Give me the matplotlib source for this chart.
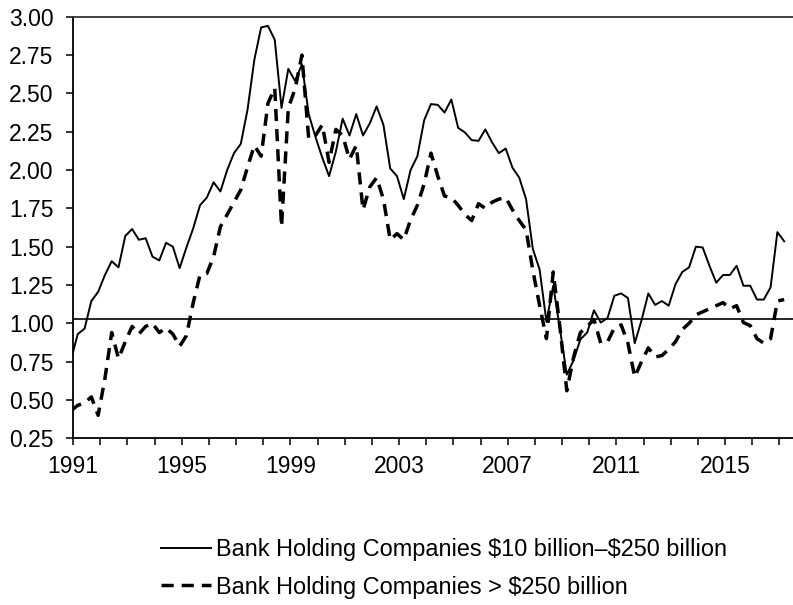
import numpy as np
import matplotlib
matplotlib.use("Agg")
import matplotlib.pyplot as plt
from matplotlib.ticker import FixedLocator, MultipleLocator, FormatStrFormatter

plt.rcParams['font.family'] = ['Liberation Sans', 'DejaVu Sans']

# quarterly observations, first one falls just before the 1991 tick
first_obs = 1990.925
mid_size = [0.76, 0.93, 0.965, 1.145, 1.205, 1.315, 1.405, 1.365, 1.57, 1.615,
            1.545, 1.555, 1.435, 1.41, 1.525, 1.50, 1.36, 1.495, 1.62, 1.77,
            1.82, 1.92, 1.86, 2.00, 2.11, 2.17, 2.395, 2.72, 2.93, 2.94,
            2.85, 2.405, 2.66, 2.58, 2.69, 2.365, 2.215, 2.08, 1.96, 2.12,
            2.335, 2.225, 2.365, 2.225, 2.305, 2.415, 2.295, 2.01, 1.96, 1.81,
            2.00, 2.09, 2.325, 2.43, 2.425, 2.375, 2.46, 2.275, 2.245, 2.195,
            2.19, 2.265, 2.18, 2.11, 2.14, 2.015, 1.95, 1.81, 1.485, 1.35,
            1.01, 1.245, 0.96, 0.665, 0.76, 0.895, 0.94, 1.085, 1.005, 1.035,
            1.18, 1.195, 1.165, 0.87, 1.02, 1.195, 1.12, 1.145, 1.115, 1.255,
            1.335, 1.365, 1.50, 1.495, 1.375, 1.265, 1.315, 1.315, 1.375, 1.245,
            1.245, 1.155, 1.155, 1.235, 1.595, 1.535]
large = [0.43, 0.465, 0.48, 0.52, 0.40, 0.64, 0.94, 0.77, 0.88, 0.98,
         0.93, 0.98, 1.00, 0.94, 0.97, 0.93, 0.85, 0.92, 1.135, 1.315,
         1.325, 1.435, 1.63, 1.71, 1.79, 1.87, 2.02, 2.16, 2.09, 2.435,
         2.535, 1.63, 2.405, 2.53, 2.75, 2.205, 2.225, 2.295, 2.05, 2.265,
         2.225, 2.07, 2.16, 1.74, 1.89, 1.95, 1.81, 1.545, 1.585, 1.545,
         1.675, 1.77, 1.91, 2.11, 1.96, 1.83, 1.82, 1.77, 1.71, 1.67,
         1.78, 1.75, 1.79, 1.81, 1.82, 1.74, 1.67, 1.61, 1.345, 1.115,
         0.90, 1.335, 0.97, 0.56, 0.78, 0.94, 0.98, 1.025, 0.87, 0.88,
         0.97, 0.99, 0.87, 0.65, 0.75, 0.84, 0.78, 0.79, 0.83, 0.88,
         0.96, 1.00, 1.055, 1.075, 1.095, 1.115, 1.135, 1.095, 1.115, 1.005,
         0.985, 0.90, 0.87, 0.90, 1.145, 1.155]
ref_level = 1.03
year_labels = [1991, 1995, 1999, 2003, 2007, 2011, 2015]
labels = ["Bank Holding Companies \\$10 billion\u2013\\$250 billion",
          "Bank Holding Companies > \\$250 billion"]

t = first_obs + 0.25 * np.arange(len(mid_size))

fig = plt.figure(figsize=(7.93, 6.05), dpi=100)
ax = fig.add_axes([73 / 793, 1 - 438.3 / 605, 720 / 793, (438.3 - 16.7) / 605])

ax.plot(t, mid_size, color='black', lw=1.4, label=labels[0])
ax.plot(t, large, color='black', lw=2.5, ls=(0, (3.5, 2.3)), label=labels[1])
ax.axhline(ref_level, color='black', lw=1.2)

ax.set_xlim(1991, 2017.5)
ax.set_ylim(0.25, 3.00)
ax.xaxis.set_major_locator(FixedLocator(year_labels))
ax.xaxis.set_minor_locator(MultipleLocator(1))
ax.yaxis.set_major_locator(MultipleLocator(0.25))
ax.yaxis.set_major_formatter(FormatStrFormatter('%.2f'))
ax.tick_params(axis='both', which='both', direction='out', length=5,
               width=1.1, labelsize=16.5, colors='black')
ax.tick_params(axis='y', pad=9)
ax.tick_params(axis='x', pad=7)

ax.spines['right'].set_visible(False)
for s in ('left', 'bottom', 'top'):
    ax.spines[s].set_linewidth(1.3)
ax.spines['top'].set_color('#333333')

fig.legend(loc='upper left', bbox_to_anchor=(161 / 793, 1 - 538 / 605),
           frameon=False, fontsize=16.9, handlelength=2.15, handletextpad=0.2,
           borderpad=0, borderaxespad=0, labelspacing=0.62)

fig.savefig("out.png", dpi=100)
